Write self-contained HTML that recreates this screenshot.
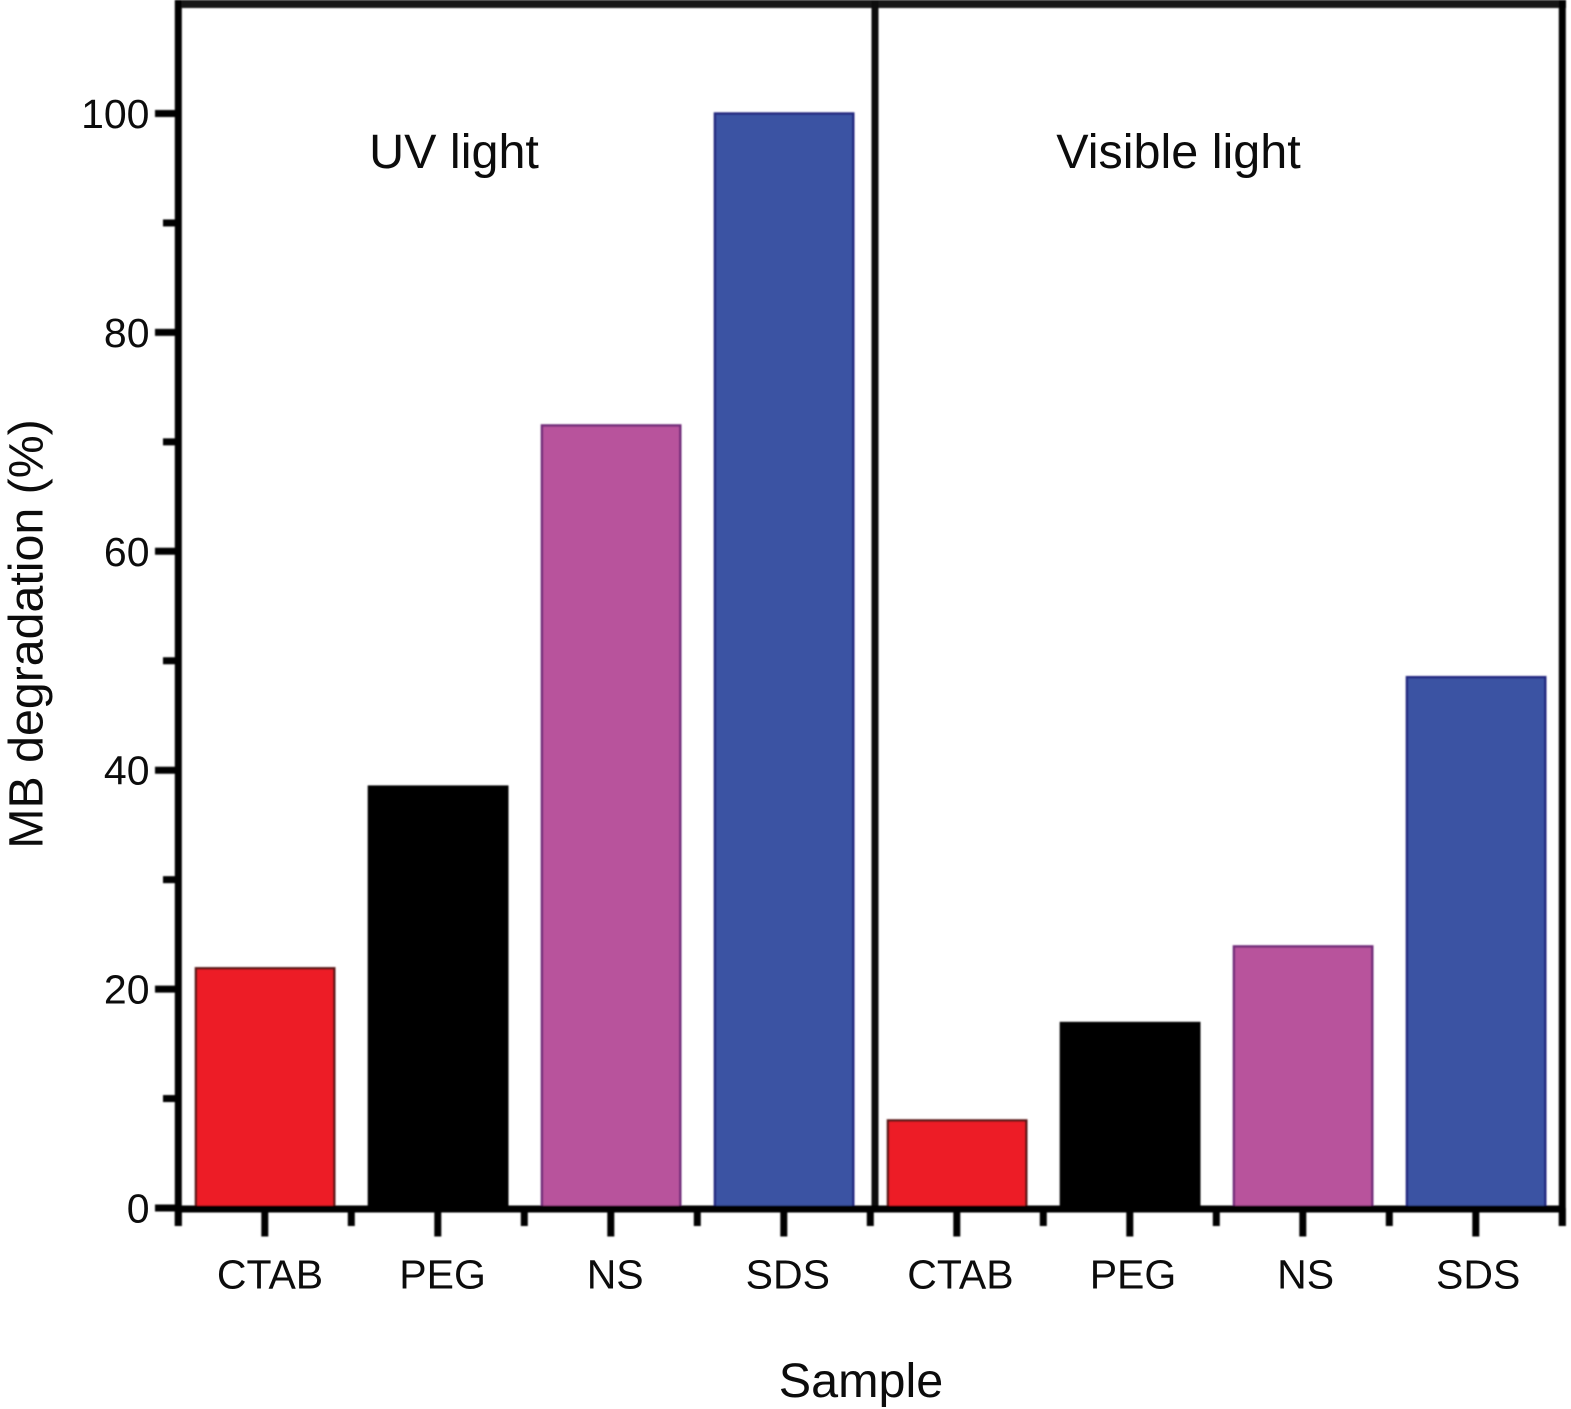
<!DOCTYPE html>
<html>
<head>
<meta charset="utf-8">
<style>
html,body{margin:0;padding:0;background:#fff;}
svg{display:block;}
text{font-family:"Liberation Sans",Arial,sans-serif;fill:#0c0c0c;}
</style>
</head>
<body>
<svg id="chart" width="1571" height="1409" viewBox="0 0 1571 1409" xmlns="http://www.w3.org/2000/svg">
<defs><filter id="soft" x="-5%" y="-5%" width="110%" height="110%"><feGaussianBlur stdDeviation="0.9"/></filter></defs>
<g id="marks" filter="url(#soft)"></g>
</svg>
<script>
const panelTitles = ["UV light", "Visible light"];
const categories = ["CTAB", "PEG", "NS", "SDS"];
const uvValues = [21.9, 38.5, 71.5, 100];
const visibleValues = [8, 16.9, 23.9, 48.5];
const barColors = ["#ed1f27", "#000000", "#b8529c", "#3a53a3"];
const barEdgeColors = ["#5a1512", "#000000", "#6f2a78", "#23287f"];
const yTicks = [0, 20, 40, 60, 80, 100];
const yMinorTicks = [10, 30, 50, 70, 90];

const svg = document.getElementById('chart');
const marks = document.getElementById('marks');
const NS = 'http://www.w3.org/2000/svg';
const y = v => 1208 - v * 10.945;
const x = i => 178.3 + i * 86.5;
const labelX = slot => 270 + slot * 172.6;

function mk(tag, attrs, parent, txt) {
  const e = document.createElementNS(NS, tag);
  for (const k in attrs) e.setAttribute(k, attrs[k]);
  if (txt !== undefined) e.textContent = txt;
  (parent || marks).appendChild(e);
  return e;
}

function drawBars(values, startSlot, prefix) {
  values.forEach((v, i) => {
    const left = x(startSlot + i * 2) + 17.6;
    const right = x(startSlot + i * 2 + 2) - 17;
    const r = mk('rect', {x: left, y: y(v), width: right - left, height: y(0) - y(v), fill: barColors[i], stroke: barEdgeColors[i], 'stroke-width': 2.4});
    
    
    const label = mk('text', {x: labelX(startSlot / 2 + i), y: 1288.5, 'font-size': 41, 'text-anchor': 'middle'}, svg, categories[i]);
    
    
  });
}

drawBars(uvValues, 0, 'uv');
drawBars(visibleValues, 8, 'visible');

const frameTop = mk('line', {x1: 175, x2: 1566, y1: 4, y2: 4, stroke: '#141616', 'stroke-width': 8});


const frameLeft = mk('line', {x1: x(0), x2: x(0), y1: 0, y2: 1226, stroke: '#050505', 'stroke-width': 7});


const frameRight = mk('line', {x1: x(16), x2: x(16), y1: 0, y2: 1226, stroke: '#050505', 'stroke-width': 7});


const divider = mk('line', {x1: 875, x2: 875, y1: 0, y2: 1209, stroke: '#0c0c0c', 'stroke-width': 7});



const xAxis = mk('line', {x1: x(0), x2: x(16), y1: y(0) + 1, y2: y(0) + 1, stroke: '#050505', 'stroke-width': 7});



for (let i = 0; i <= 16; i++) {
  const major = i % 2 === 1;
  const t = mk('line', {x1: x(i), x2: x(i), y1: 1208, y2: major ? 1236.5 : 1226, stroke: '#050505', 'stroke-width': 7});
  
  
}

yTicks.forEach(v => {
  const t = mk('line', {x1: 155, x2: x(0), y1: y(v), y2: y(v), stroke: '#050505', 'stroke-width': 7});
  
  
  const l = mk('text', {x: 149.5, y: y(v) + 14.5, 'font-size': 41, 'text-anchor': 'end'}, svg, String(v));
  
  
});
yMinorTicks.forEach(v => {
  const t = mk('line', {x1: 163, x2: x(0), y1: y(v), y2: y(v), stroke: '#050505', 'stroke-width': 7});
  
  
});

const uvTitle = mk('text', {x: 454, y: 168, 'font-size': 48.5, 'text-anchor': 'middle'}, svg, panelTitles[0]);


const visTitle = mk('text', {x: 1178.5, y: 168, 'font-size': 48.5, 'text-anchor': 'middle'}, svg, panelTitles[1]);



const xTitle = mk('text', {x: 861, y: 1397, 'font-size': 48.5, 'text-anchor': 'middle'}, svg, 'Sample');


const yTitle = mk('text', {x: 0, y: 0, 'font-size': 48.3, 'text-anchor': 'middle', transform: 'translate(42.5,634) rotate(-90)'}, svg, 'MB degradation (%)');


</script>
</body>
</html>
